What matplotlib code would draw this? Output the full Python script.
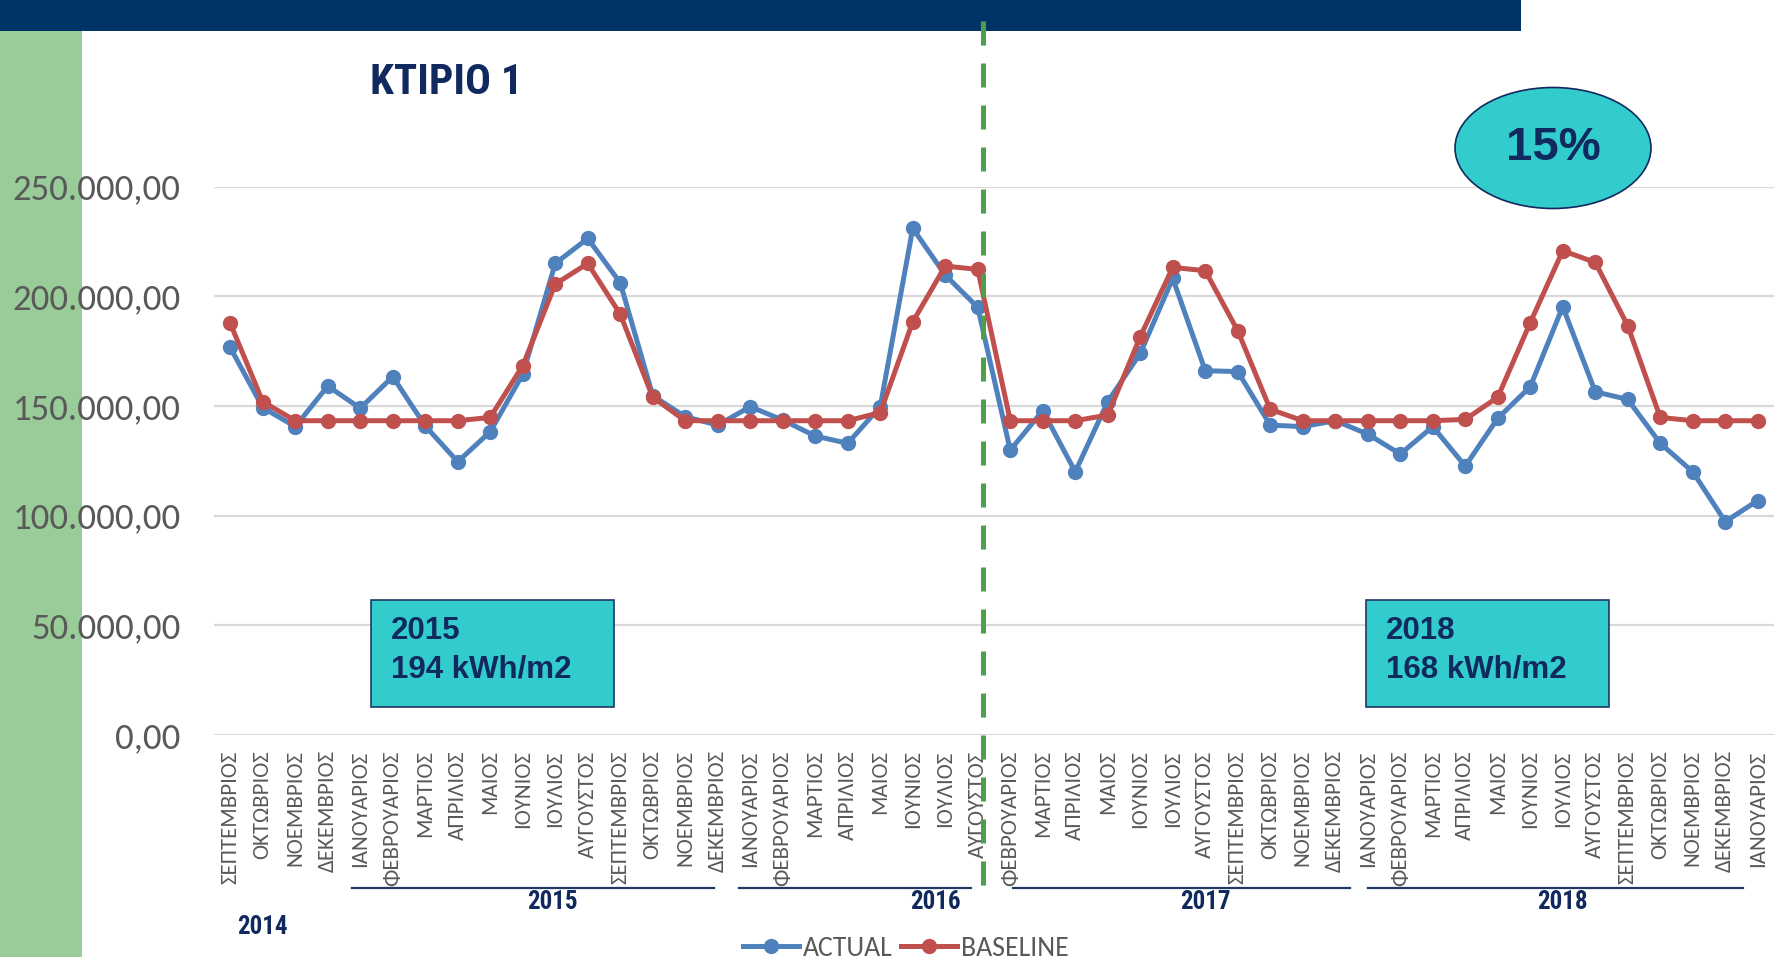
import matplotlib
matplotlib.use("Agg")
import matplotlib.pyplot as plt
from matplotlib.patches import Rectangle, Ellipse
from matplotlib.ticker import FuncFormatter
from matplotlib.transforms import blended_transform_factory

# Calibri-like text for axes/legend, narrow bold for title and years, Arial-like for boxes
body_font = ['Carlito', 'Roboto Condensed', 'DejaVu Sans']
narrow_font = ['Roboto Condensed', 'Liberation Sans', 'DejaVu Sans']
box_font = ['Liberation Sans', 'DejaVu Sans']
plt.rcParams['font.family'] = body_font

# -----------------------
# DATA
# -----------------------
months = [
    'ΣΕΠΤΕΜΒΡΙΟΣ', 'ΟΚΤΩΒΡΙΟΣ', 'ΝΟΕΜΒΡΙΟΣ', 'ΔΕΚΕΜΒΡΙΟΣ',
    'ΙΑΝΟΥΑΡΙΟΣ', 'ΦΕΒΡΟΥΑΡΙΟΣ', 'ΜΑΡΤΙΟΣ', 'ΑΠΡΙΛΙΟΣ', 'ΜΑΙΟΣ', 'ΙΟΥΝΙΟΣ',
    'ΙΟΥΛΙΟΣ', 'ΑΥΓΟΥΣΤΟΣ', 'ΣΕΠΤΕΜΒΡΙΟΣ', 'ΟΚΤΩΒΡΙΟΣ', 'ΝΟΕΜΒΡΙΟΣ', 'ΔΕΚΕΜΒΡΙΟΣ',
    'ΙΑΝΟΥΑΡΙΟΣ', 'ΦΕΒΡΟΥΑΡΙΟΣ', 'ΜΑΡΤΙΟΣ', 'ΑΠΡΙΛΙΟΣ', 'ΜΑΙΟΣ', 'ΙΟΥΝΙΟΣ',
    'ΙΟΥΛΙΟΣ', 'ΑΥΓΟΥΣΤΟΣ',
    'ΦΕΒΡΟΥΑΡΙΟΣ', 'ΜΑΡΤΙΟΣ', 'ΑΠΡΙΛΙΟΣ', 'ΜΑΙΟΣ', 'ΙΟΥΝΙΟΣ', 'ΙΟΥΛΙΟΣ',
    'ΑΥΓΟΥΣΤΟΣ', 'ΣΕΠΤΕΜΒΡΙΟΣ', 'ΟΚΤΩΒΡΙΟΣ', 'ΝΟΕΜΒΡΙΟΣ', 'ΔΕΚΕΜΒΡΙΟΣ',
    'ΙΑΝΟΥΑΡΙΟΣ', 'ΦΕΒΡΟΥΑΡΙΟΣ', 'ΜΑΡΤΙΟΣ', 'ΑΠΡΙΛΙΟΣ', 'ΜΑΙΟΣ', 'ΙΟΥΝΙΟΣ',
    'ΙΟΥΛΙΟΣ', 'ΑΥΓΟΥΣΤΟΣ', 'ΣΕΠΤΕΜΒΡΙΟΣ', 'ΟΚΤΩΒΡΙΟΣ', 'ΝΟΕΜΒΡΙΟΣ', 'ΔΕΚΕΜΒΡΙΟΣ',
    'ΙΑΝΟΥΑΡΙΟΣ',
]

actual = [
    176700, 149300, 140600, 159100,
    149000, 163400, 140900, 124600, 138300, 164500, 215000, 226400, 206200, 154700, 145100, 141300,
    149700, 143600, 136300, 133000, 149700, 231000, 209700, 195000,
    129900, 147900, 120000, 152000, 174000, 208200, 166100, 165700, 141300, 140600, 143300,
    137200, 128100, 140600, 122600, 144400, 158800, 195300, 156500, 153000, 133000, 120000, 97300,
    106900,
]

baseline = [
    187700, 152000, 143300, 143300,
    143300, 143300, 143300, 143300, 144800, 168400, 205600, 215000, 191900, 154000, 143300, 143300,
    143300, 143300, 143300, 143300, 147000, 188400, 213800, 212300,
    143300, 143300, 143300, 145900, 181600, 213200, 211700, 184300, 148500, 143300, 143300,
    143300, 143300, 143300, 143900, 154000, 188000, 220800, 215500, 186600, 144800, 143300, 143300,
    143300,
]

years = ['2014', '2015', '2016', '2017', '2018']
year_text_x = [1.0, 9.9, 21.7, 30.0, 41.0]
year_lines = [(3.75, 14.9), (15.65, 22.8), (24.1, 34.45), (35.0, 46.55)]

saving = '15%'
notes = [('2015', '194 kWh/m2'), ('2018', '168 kWh/m2')]

split_pos = 23.15

# -----------------------
# STYLE
# -----------------------
navy = '#10295E'
bar_navy = '#003366'
green = '#99CC99'
turq = '#33CCCC'
gray = '#595959'

W, H = 1783, 957


def fx(px):
    return px / W


def fy(py):
    return 1 - py / H


fig = plt.figure(figsize=(W / 100, H / 100), dpi=100)
fig.patch.set_facecolor('white')

# background shapes of the slide
fig.add_artist(Rectangle((0, fy(31)), fx(1521), 1 - fy(31), transform=fig.transFigure,
                         facecolor=bar_navy, edgecolor='none', zorder=-1))
fig.add_artist(Rectangle((0, 0), fx(82), fy(31), transform=fig.transFigure,
                         facecolor=green, edgecolor='none', zorder=-1))

ax = fig.add_axes([fx(214), fy(735), fx(1774) - fx(214), fy(186.7) - fy(735)])
ax.set_facecolor('none')

x = list(range(len(months)))
ax.plot(x, actual, color='#4F81BD', lw=3.6, marker='o', ms=10, label='ACTUAL', zorder=3)
ax.plot(x, baseline, color='#C0504D', lw=3.6, marker='o', ms=10, label='BASELINE', zorder=4)

ax.set_xlim(-0.5, len(months) - 0.5)
ax.set_ylim(0, 250000)
ax.set_yticks(range(0, 250001, 50000))
ax.yaxis.set_major_formatter(FuncFormatter(
    lambda v, p: f"{v:,.2f}".replace(',', 'X').replace('.', ',').replace('X', '.')))
ax.set_xticks(x)
ax.set_xticklabels(months, rotation=90)
ax.tick_params(axis='y', length=0, pad=24, labelsize=26.5, labelcolor=gray)
ax.tick_params(axis='x', length=0, pad=11, labelsize=16.5, labelcolor=gray)
ax.grid(axis='y', color='#d9d9d9', lw=1.6)
ax.set_axisbelow(True)
for s in ax.spines.values():
    s.set_visible(False)

# dashed split line
ax.axvline(split_pos, ymin=(735 - 885) / (735 - 186.7), ymax=(735 - 8) / (735 - 186.7),
           color='#4E9F4A', lw=3.6, dashes=(4.8, 3.6), clip_on=False, zorder=6)

# year groups under the month labels
trans = blended_transform_factory(ax.transData, fig.transFigure)
for (x0, x1) in year_lines:
    ax.plot([x0, x1], [fy(888), fy(888)], color='#1F3864', lw=1.6, transform=trans, clip_on=False)
for i, yr in enumerate(years):
    ypos = fy(927) if i == 0 else fy(902)
    ax.text(year_text_x[i], ypos, yr, transform=trans, ha='center', va='center',
            fontsize=18, weight='bold', color=navy, family=narrow_font)

# title
fig.text(fx(370), fy(82), 'ΚΤΙΡΙΟ 1', fontsize=31, weight='bold', color=navy,
         va='center', ha='left', family=narrow_font)

# saving bubble
fig.add_artist(Ellipse((fx(1553), fy(148)), fx(196), 121 / H, transform=fig.transFigure,
                       facecolor=turq, edgecolor=navy, lw=1.2, zorder=2))
fig.text(fx(1553), fy(148), saving, fontsize=34, weight='bold', color=navy,
         ha='center', va='center', zorder=3, family=box_font)

# kWh/m2 boxes
for (yr, val), left in zip(notes, [371, 1366]):
    fig.add_artist(Rectangle((fx(left), fy(707)), fx(243), 107 / H, transform=fig.transFigure,
                             facecolor=turq, edgecolor='#1F3864', lw=1.2, zorder=2))
    fig.text(fx(left + 20), fy(631), yr, fontsize=22.5, weight='bold', color=navy,
             va='center', zorder=3, family=box_font)
    fig.text(fx(left + 20), fy(669), val, fontsize=22.5, weight='bold', color=navy,
             va='center', zorder=3, family=box_font)

# legend
h, l = ax.get_legend_handles_labels()
fig.legend(h, l, loc='center', bbox_to_anchor=(fx(906), fy(948)), ncol=2, frameon=False,
           fontsize=20, labelcolor=gray, handlelength=2.0, handletextpad=0.15,
           columnspacing=0.3, borderpad=0)

fig.savefig('out.png', dpi=100)
